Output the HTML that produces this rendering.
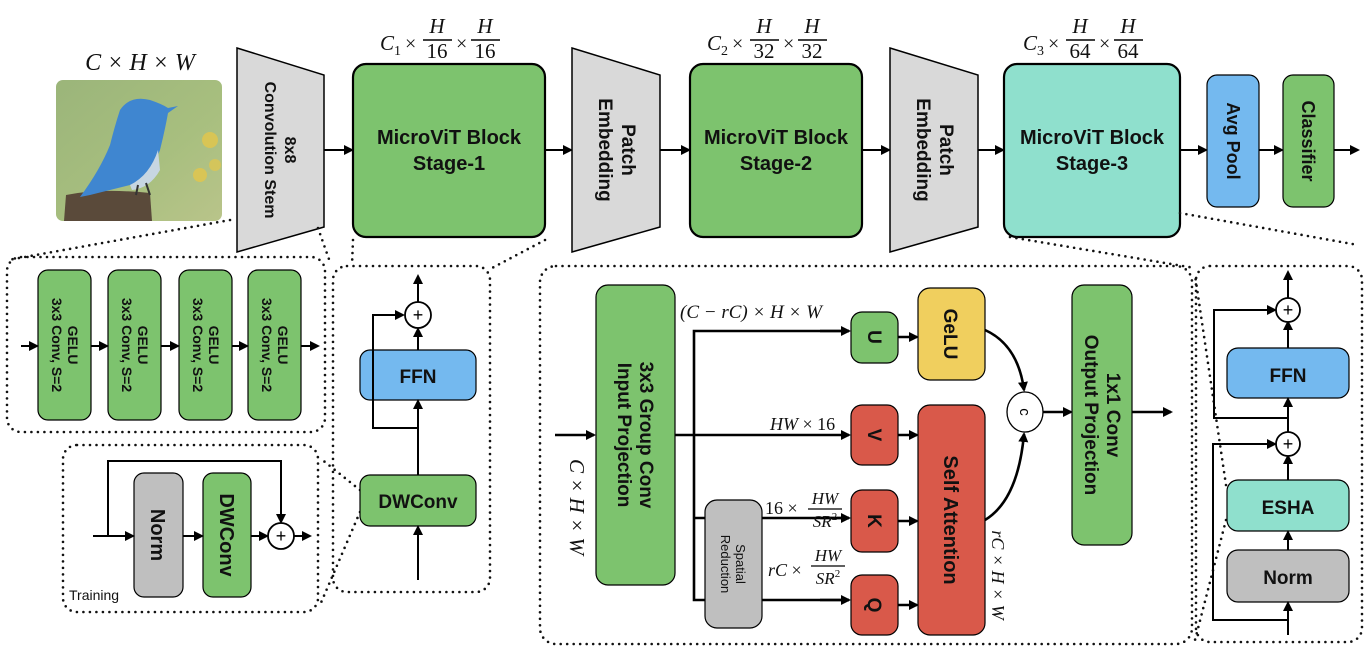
<!DOCTYPE html>
<html><head><meta charset="utf-8"><style>
html,body{margin:0;padding:0;background:#fff;}
svg{display:block;}
.b{font-family:"Liberation Sans",sans-serif;font-weight:bold;fill:#111;}
.m{font-family:"Liberation Serif",serif;font-style:italic;fill:#111;}
.mr{font-family:"Liberation Serif",serif;fill:#111;}
.dot{fill:none;stroke:#111;stroke-width:2.6;stroke-dasharray:0 6.5;stroke-linecap:round;}
.ln{fill:none;stroke:#000;stroke-width:2;}
.lnb{fill:none;stroke:#000;stroke-width:2.6;}
</style></head><body>
<svg width="1372" height="651" viewBox="0 0 1372 651" xmlns="http://www.w3.org/2000/svg">
<defs>
<marker id="a" markerWidth="10" markerHeight="10" refX="8" refY="5" orient="auto" markerUnits="userSpaceOnUse"><path d="M0,0 L10,5 L0,10 z" fill="#000"/></marker>
<linearGradient id="bg" x1="0" y1="0" x2="1" y2="1"><stop offset="0" stop-color="#9bb57a"/><stop offset="0.6" stop-color="#a8bf7f"/><stop offset="1" stop-color="#b9c48a"/></linearGradient>
</defs>

<!-- top labels -->
<text x="140" y="70" text-anchor="middle" class="m" font-size="24">C × H × W</text>
<g id="lab1">
<text x="380" y="50" class="m" font-size="21">C<tspan font-size="14" dy="5" font-style="normal">1</tspan></text>
<text x="405" y="50" class="mr" font-size="20">×</text>
<text x="437" y="33" text-anchor="middle" class="m" font-size="21">H</text>
<line x1="423" y1="40" x2="452" y2="40" stroke="#000" stroke-width="1.5"/>
<text x="437" y="58" text-anchor="middle" class="mr" font-size="21">16</text>
<text x="456" y="50" class="mr" font-size="20">×</text>
<text x="485" y="33" text-anchor="middle" class="m" font-size="21">H</text>
<line x1="471" y1="40" x2="500" y2="40" stroke="#000" stroke-width="1.5"/>
<text x="485" y="58" text-anchor="middle" class="mr" font-size="21">16</text>
</g>
<g transform="translate(327,0)">
<text x="380" y="50" class="m" font-size="21">C<tspan font-size="14" dy="5" font-style="normal">2</tspan></text>
<text x="405" y="50" class="mr" font-size="20">×</text>
<text x="437" y="33" text-anchor="middle" class="m" font-size="21">H</text>
<line x1="423" y1="40" x2="452" y2="40" stroke="#000" stroke-width="1.5"/>
<text x="437" y="58" text-anchor="middle" class="mr" font-size="21">32</text>
<text x="456" y="50" class="mr" font-size="20">×</text>
<text x="485" y="33" text-anchor="middle" class="m" font-size="21">H</text>
<line x1="471" y1="40" x2="500" y2="40" stroke="#000" stroke-width="1.5"/>
<text x="485" y="58" text-anchor="middle" class="mr" font-size="21">32</text>
</g>
<g transform="translate(643,0)">
<text x="380" y="50" class="m" font-size="21">C<tspan font-size="14" dy="5" font-style="normal">3</tspan></text>
<text x="405" y="50" class="mr" font-size="20">×</text>
<text x="437" y="33" text-anchor="middle" class="m" font-size="21">H</text>
<line x1="423" y1="40" x2="452" y2="40" stroke="#000" stroke-width="1.5"/>
<text x="437" y="58" text-anchor="middle" class="mr" font-size="21">64</text>
<text x="456" y="50" class="mr" font-size="20">×</text>
<text x="485" y="33" text-anchor="middle" class="m" font-size="21">H</text>
<line x1="471" y1="40" x2="500" y2="40" stroke="#000" stroke-width="1.5"/>
<text x="485" y="58" text-anchor="middle" class="mr" font-size="21">64</text>
</g>

<!-- bird image -->
<g>
<rect x="56" y="80" width="166" height="141" rx="7" fill="url(#bg)"/>
<circle cx="210" cy="140" r="8" fill="#e4c64a" opacity="0.8"/>
<circle cx="200" cy="175" r="7" fill="#e4c64a" opacity="0.8"/>
<circle cx="215" cy="165" r="6" fill="#e4c64a" opacity="0.7"/>
<path d="M64,221 L66,195 Q100,188 150,193 L152,221 Z" fill="#5a4a3a"/>
<path d="M120,110 Q130,95 150,100 Q162,104 168,108 L178,106 L168,113 Q165,130 160,150 Q150,178 130,185 Q110,190 90,195 L80,197 Q100,170 110,145 Q115,125 120,110 Z" fill="#3f86d0"/>
<path d="M130,185 Q150,175 158,150 L160,170 Q150,188 132,190 Z" fill="#c7d6e2"/>
<line x1="138" y1="185" x2="136" y2="195" stroke="#333" stroke-width="2"/>
<line x1="146" y1="183" x2="150" y2="195" stroke="#333" stroke-width="2"/>
</g>

<!-- stem trapezoid -->
<polygon points="237,48 324,75 324,227 237,252" fill="#d9d9d9" stroke="#000" stroke-width="1.5"/>
<text transform="translate(281,150) rotate(90)" text-anchor="middle" class="b" font-size="16"><tspan x="0" y="-4">8x8</tspan><tspan x="0" y="16">Convolution Stem</tspan></text>
<line class="ln" x1="324" y1="150" x2="352" y2="150" marker-end="url(#a)"/>

<rect x="353" y="64" width="192" height="173" rx="13" fill="#7dc36e" stroke="#000" stroke-width="2.2"/>
<text x="449" y="144" text-anchor="middle" class="b" font-size="20">MicroViT Block</text>
<text x="449" y="170" text-anchor="middle" class="b" font-size="20">Stage-1</text>
<line class="ln" x1="545" y1="150" x2="571" y2="150" marker-end="url(#a)"/>

<polygon points="572,48 660,75 660,227 572,252" fill="#d9d9d9" stroke="#000" stroke-width="1.5"/>
<text transform="translate(616,150) rotate(90)" text-anchor="middle" class="b" font-size="19"><tspan x="0" y="-6">Patch</tspan><tspan x="0" y="17">Embedding</tspan></text>
<line class="ln" x1="660" y1="150" x2="689" y2="150" marker-end="url(#a)"/>

<rect x="690" y="64" width="172" height="173" rx="13" fill="#7dc36e" stroke="#000" stroke-width="2.2"/>
<text x="776" y="144" text-anchor="middle" class="b" font-size="20">MicroViT Block</text>
<text x="776" y="170" text-anchor="middle" class="b" font-size="20">Stage-2</text>
<line class="ln" x1="862" y1="150" x2="889" y2="150" marker-end="url(#a)"/>

<polygon points="890,48 978,75 978,227 890,252" fill="#d9d9d9" stroke="#000" stroke-width="1.5"/>
<text transform="translate(934,150) rotate(90)" text-anchor="middle" class="b" font-size="19"><tspan x="0" y="-6">Patch</tspan><tspan x="0" y="17">Embedding</tspan></text>
<line class="ln" x1="978" y1="150" x2="1003" y2="150" marker-end="url(#a)"/>

<rect x="1004" y="64" width="176" height="173" rx="13" fill="#8fe0cd" stroke="#000" stroke-width="2.2"/>
<text x="1092" y="144" text-anchor="middle" class="b" font-size="20">MicroViT Block</text>
<text x="1092" y="170" text-anchor="middle" class="b" font-size="20">Stage-3</text>
<line class="ln" x1="1180" y1="150" x2="1206" y2="150" marker-end="url(#a)"/>

<rect x="1207" y="75" width="52" height="132" rx="10" fill="#74b9ef" stroke="#000" stroke-width="1.2"/>
<text transform="translate(1233,141) rotate(90)" text-anchor="middle" class="b" font-size="18" y="6">Avg Pool</text>
<line class="ln" x1="1259" y1="150" x2="1282" y2="150" marker-end="url(#a)"/>
<rect x="1283" y="75" width="51" height="132" rx="10" fill="#7dc36e" stroke="#000" stroke-width="1.2"/>
<text transform="translate(1308,141) rotate(90)" text-anchor="middle" class="b" font-size="18" y="6">Classifier</text>
<line class="ln" x1="1334" y1="150" x2="1358" y2="150" marker-end="url(#a)"/>

<!-- dotted connectors -->
<line class="dot" x1="230" y1="220" x2="8" y2="260"/>
<line class="dot" x1="318" y1="228" x2="330" y2="262"/>
<line class="dot" x1="353" y1="240" x2="352" y2="265"/>
<line class="dot" x1="545" y1="240" x2="492" y2="268"/>
<line class="dot" x1="1010" y1="237" x2="1195" y2="268"/>
<line class="dot" x1="1180" y1="213" x2="1358" y2="245"/>
<line class="dot" x1="360" y1="490" x2="320" y2="458"/>
<line class="dot" x1="360" y1="512" x2="320" y2="605"/>
<line class="dot" x1="1226" y1="485" x2="1195" y2="275"/>
<line class="dot" x1="1226" y1="520" x2="1195" y2="640"/>

<!-- box1 -->
<rect class="dot" x="7" y="257" width="318" height="175" rx="14"/>
<g>
<rect x="38" y="270" width="53" height="150" rx="10" fill="#7dc36e" stroke="#000" stroke-width="1.2"/>
<rect x="108" y="270" width="53" height="150" rx="10" fill="#7dc36e" stroke="#000" stroke-width="1.2"/>
<rect x="179" y="270" width="53" height="150" rx="10" fill="#7dc36e" stroke="#000" stroke-width="1.2"/>
<rect x="248" y="270" width="53" height="150" rx="10" fill="#7dc36e" stroke="#000" stroke-width="1.2"/>
<text transform="translate(64,345) rotate(90)" text-anchor="middle" class="b" font-size="14"><tspan x="0" y="-4">GELU</tspan><tspan x="0" y="12">3x3 Conv, S=2</tspan></text>
<text transform="translate(134,345) rotate(90)" text-anchor="middle" class="b" font-size="14"><tspan x="0" y="-4">GELU</tspan><tspan x="0" y="12">3x3 Conv, S=2</tspan></text>
<text transform="translate(205,345) rotate(90)" text-anchor="middle" class="b" font-size="14"><tspan x="0" y="-4">GELU</tspan><tspan x="0" y="12">3x3 Conv, S=2</tspan></text>
<text transform="translate(274,345) rotate(90)" text-anchor="middle" class="b" font-size="14"><tspan x="0" y="-4">GELU</tspan><tspan x="0" y="12">3x3 Conv, S=2</tspan></text>
<line class="ln" x1="21" y1="346" x2="37" y2="346" marker-end="url(#a)"/>
<line class="ln" x1="91" y1="346" x2="107" y2="346" marker-end="url(#a)"/>
<line class="ln" x1="161" y1="346" x2="178" y2="346" marker-end="url(#a)"/>
<line class="ln" x1="232" y1="346" x2="247" y2="346" marker-end="url(#a)"/>
<line class="ln" x1="301" y1="346" x2="318" y2="346" marker-end="url(#a)"/>
</g>

<!-- training box -->
<rect class="dot" x="63" y="445" width="255" height="167" rx="14"/>
<rect x="134" y="473" width="49" height="124" rx="10" fill="#bfbfbf" stroke="#000" stroke-width="1.2"/>
<text transform="translate(158,535) rotate(90)" text-anchor="middle" class="b" font-size="20" y="7">Norm</text>
<rect x="203" y="473" width="48" height="124" rx="10" fill="#7dc36e" stroke="#000" stroke-width="1.2"/>
<text transform="translate(227,535) rotate(90)" text-anchor="middle" class="b" font-size="20" y="7">DWConv</text>
<line class="ln" x1="93" y1="536" x2="133" y2="536" marker-end="url(#a)"/>
<line class="ln" x1="183" y1="536" x2="202" y2="536" marker-end="url(#a)"/>
<line class="ln" x1="251" y1="536" x2="267" y2="536" marker-end="url(#a)"/>
<polyline class="ln" points="108,536 108,461 281,461 281,522" marker-end="url(#a)"/>
<circle cx="281" cy="536" r="13" fill="#fff" stroke="#000" stroke-width="1.8"/>
<text x="281" y="542" text-anchor="middle" font-family="Liberation Sans" font-size="18">+</text>
<line class="ln" x1="294" y1="536" x2="310" y2="536" marker-end="url(#a)"/>
<text x="69" y="600" font-family="Liberation Sans" font-size="14" fill="#111">Training</text>

<!-- box3 -->
<rect class="dot" x="333" y="266" width="157" height="326" rx="14"/>
<rect x="360" y="350" width="116" height="50" rx="10" fill="#74b9ef" stroke="#000" stroke-width="1.2"/>
<text x="418" y="383" text-anchor="middle" class="b" font-size="19">FFN</text>
<rect x="360" y="475" width="116" height="51" rx="10" fill="#7dc36e" stroke="#000" stroke-width="1.2"/>
<text x="418" y="508" text-anchor="middle" class="b" font-size="19">DWConv</text>
<line class="ln" x1="418" y1="580" x2="418" y2="527" marker-end="url(#a)"/>
<line class="ln" x1="418" y1="475" x2="418" y2="401" marker-end="url(#a)"/>
<polyline class="ln" points="418,428 373,428 373,315 403,315" marker-end="url(#a)"/>
<line class="ln" x1="418" y1="350" x2="418" y2="329" marker-end="url(#a)"/>
<circle cx="418" cy="315" r="13" fill="#fff" stroke="#000" stroke-width="1.8"/>
<text x="418" y="321" text-anchor="middle" font-family="Liberation Sans" font-size="18">+</text>
<line class="ln" x1="418" y1="302" x2="418" y="0" y2="276" marker-end="url(#a)"/>

<!-- attention box -->
<rect class="dot" x="540" y="266" width="652" height="378" rx="16"/>
<line class="lnb" x1="555" y1="435" x2="594" y2="435" marker-end="url(#a)"/>
<text transform="translate(570,507) rotate(90)" text-anchor="middle" class="m" font-size="21" y="0">C × H × W</text>
<rect x="596" y="285" width="79" height="300" rx="12" fill="#7dc36e" stroke="#000" stroke-width="1.2"/>
<text transform="translate(635,435) rotate(90)" text-anchor="middle" class="b" font-size="19"><tspan x="0" y="-5">3x3 Group Conv</tspan><tspan x="0" y="17">Input Projection</tspan></text>
<line class="lnb" x1="675" y1="435" x2="849" y2="435" marker-end="url(#a)"/>
<polyline class="lnb" points="849,331 694,331 694,600 849,600"/>
<line class="lnb" x1="694" y1="518" x2="849" y2="518"/>
<line class="lnb" x1="820" y1="331" x2="849" y2="331" marker-end="url(#a)"/>
<line class="lnb" x1="820" y1="518" x2="849" y2="518" marker-end="url(#a)"/>
<line class="lnb" x1="820" y1="600" x2="849" y2="600" marker-end="url(#a)"/>
<rect x="705" y="500" width="57" height="128" rx="12" fill="#bfbfbf" stroke="#000" stroke-width="1.2"/>
<text transform="translate(733,564) rotate(90)" text-anchor="middle" font-family="Liberation Sans" font-size="13" fill="#111"><tspan x="0" y="-3">Spatial</tspan><tspan x="0" y="12">Reduction</tspan></text>

<text x="680" y="318" class="m" font-size="19">(C − rC) × H × W</text>
<text x="770" y="430" class="m" font-size="18">HW <tspan font-style="normal">× 16</tspan></text>
<text x="765" y="526" class="mr" font-size="18" dy="-12">16 ×</text>
<text x="825" y="504" text-anchor="middle" class="m" font-size="17">HW</text>
<line x1="808" y1="509" x2="842" y2="509" stroke="#000" stroke-width="1.3"/>
<text x="825" y="527" text-anchor="middle" class="m" font-size="17">SR<tspan font-size="11" dy="-7" font-style="normal">2</tspan></text>
<text x="768" y="576" class="m" font-size="18">rC <tspan font-style="normal">×</tspan></text>
<text x="828" y="561" text-anchor="middle" class="m" font-size="17">HW</text>
<line x1="811" y1="566" x2="845" y2="566" stroke="#000" stroke-width="1.3"/>
<text x="828" y="584" text-anchor="middle" class="m" font-size="17">SR<tspan font-size="11" dy="-7" font-style="normal">2</tspan></text>

<rect x="851" y="312" width="47" height="51" rx="11" fill="#7dc36e" stroke="#000" stroke-width="1.2"/>
<text transform="translate(875,337) rotate(90)" text-anchor="middle" class="b" font-size="19" y="7">U</text>
<rect x="851" y="405" width="47" height="60" rx="11" fill="#d9594a" stroke="#000" stroke-width="1.2"/>
<text transform="translate(875,435) rotate(90)" text-anchor="middle" class="b" font-size="19" y="7">V</text>
<rect x="851" y="490" width="47" height="62" rx="11" fill="#d9594a" stroke="#000" stroke-width="1.2"/>
<text transform="translate(875,521) rotate(90)" text-anchor="middle" class="b" font-size="19" y="7">K</text>
<rect x="851" y="575" width="47" height="60" rx="11" fill="#d9594a" stroke="#000" stroke-width="1.2"/>
<text transform="translate(875,605) rotate(90)" text-anchor="middle" class="b" font-size="19" y="7">Q</text>

<line class="lnb" x1="898" y1="337" x2="917" y2="337" marker-end="url(#a)"/>
<line class="lnb" x1="898" y1="435" x2="917" y2="435" marker-end="url(#a)"/>
<line class="lnb" x1="898" y1="521" x2="917" y2="521" marker-end="url(#a)"/>
<line class="lnb" x1="898" y1="605" x2="917" y2="605" marker-end="url(#a)"/>

<rect x="918" y="288" width="67" height="92" rx="12" fill="#f0cf5e" stroke="#000" stroke-width="1.2"/>
<text transform="translate(951,334) rotate(90)" text-anchor="middle" class="b" font-size="19" y="7">GeLU</text>
<rect x="918" y="405" width="67" height="230" rx="12" fill="#d9594a" stroke="#000" stroke-width="1.2"/>
<text transform="translate(951,520) rotate(90)" text-anchor="middle" class="b" font-size="20" y="7">Self Attention</text>
<text transform="translate(998,575) rotate(90)" text-anchor="middle" class="m" font-size="18" y="6">rC × H × W</text>

<path class="lnb" d="M985,330 Q1018,345 1024,390" marker-end="url(#a)"/>
<path class="lnb" d="M985,520 Q1018,500 1024,434" marker-end="url(#a)"/>
<ellipse cx="1025" cy="412" rx="18" ry="20" fill="#fff" stroke="#000" stroke-width="1.3"/>
<text transform="translate(1025,412) rotate(90)" text-anchor="middle" font-family="Liberation Sans" font-size="15" y="5">c</text>
<line class="lnb" x1="1043" y1="412" x2="1071" y2="412" marker-end="url(#a)"/>
<rect x="1072" y="285" width="60" height="260" rx="12" fill="#7dc36e" stroke="#000" stroke-width="1.2"/>
<text transform="translate(1102,415) rotate(90)" text-anchor="middle" class="b" font-size="19"><tspan x="0" y="-5">1x1 Conv</tspan><tspan x="0" y="17">Output Projection</tspan></text>
<line class="lnb" x1="1132" y1="412" x2="1171" y2="412" marker-end="url(#a)"/>

<!-- right box -->
<rect class="dot" x="1196" y="266" width="166" height="376" rx="14"/>
<rect x="1227" y="348" width="122" height="50" rx="11" fill="#74b9ef" stroke="#000" stroke-width="1.2"/>
<text x="1288" y="382" text-anchor="middle" class="b" font-size="19">FFN</text>
<rect x="1227" y="480" width="122" height="51" rx="11" fill="#8fe0cd" stroke="#000" stroke-width="1.2"/>
<text x="1288" y="514" text-anchor="middle" class="b" font-size="19">ESHA</text>
<rect x="1227" y="550" width="122" height="52" rx="11" fill="#bfbfbf" stroke="#000" stroke-width="1.2"/>
<text x="1288" y="584" text-anchor="middle" class="b" font-size="19">Norm</text>
<line class="ln" x1="1288" y1="635" x2="1288" y2="603" marker-end="url(#a)"/>
<line class="ln" x1="1288" y1="550" x2="1288" y2="532" marker-end="url(#a)"/>
<line class="ln" x1="1288" y1="480" x2="1288" y2="456" marker-end="url(#a)"/>
<line class="ln" x1="1288" y1="432" x2="1288" y2="399" marker-end="url(#a)"/>
<line class="ln" x1="1288" y1="348" x2="1288" y2="322" marker-end="url(#a)"/>
<line class="ln" x1="1288" y1="298" x2="1288" y2="272" marker-end="url(#a)"/>
<polyline class="ln" points="1288,620 1213,620 1213,444 1275,444" marker-end="url(#a)"/>
<polyline class="ln" points="1288,418 1214,418 1214,310 1275,310" marker-end="url(#a)"/>
<circle cx="1288" cy="310" r="12" fill="#fff" stroke="#000" stroke-width="1.8"/>
<text x="1288" y="316" text-anchor="middle" font-family="Liberation Sans" font-size="18">+</text>
<circle cx="1288" cy="444" r="12" fill="#fff" stroke="#000" stroke-width="1.8"/>
<text x="1288" y="450" text-anchor="middle" font-family="Liberation Sans" font-size="18">+</text>
</svg>
</body></html>
